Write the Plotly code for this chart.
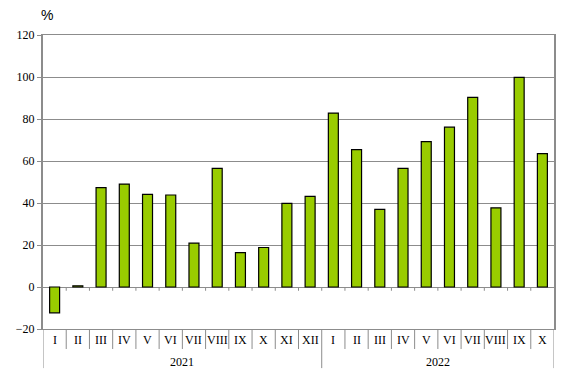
import plotly.graph_objects as go

months_2021 = ["I", "II", "III", "IV", "V", "VI", "VII", "VIII", "IX", "X", "XI", "XII"]
months_2022 = ["I", "II", "III", "IV", "V", "VI", "VII", "VIII", "IX", "X"]
values_2021 = [-12.3, 0.6, 47.3, 49.0, 44.1, 43.8, 20.9, 56.5, 16.4, 18.8, 39.8, 43.2]
values_2022 = [82.8, 65.4, 37.0, 56.5, 69.2, 76.1, 90.3, 37.7, 99.8, 63.5]
years = ["2021", "2022"]
y_ticks = [-20, 0, 20, 40, 60, 80, 100, 120]

months = months_2021 + months_2022
values = values_2021 + values_2022
xs = list(range(len(months)))

GRID = "#8c8c8c"
SERIF = "Liberation Serif, Times New Roman, serif"

fig = go.Figure()
fig.add_trace(go.Bar(
    x=xs, y=values, width=0.43,
    marker=dict(color="#99CC00", line=dict(color="black", width=1.2)),
    hoverinfo="y",
))

shapes = []
annotations = []
n = len(months)
split = len(months_2021)
for k in range(n + 1):
    b = k - 0.5
    long = k in (0, split, n)
    shapes.append(dict(type="line", xref="x", yref="paper", x0=b, x1=b,
                       y0=0, y1=-0.133 if long else -0.068,
                       line=dict(color=GRID, width=1)))
    if 0 < k < n:
        shapes.append(dict(type="line", xref="x", yref="y", x0=b, x1=b,
                           y0=0, y1=-1.8, line=dict(color=GRID, width=1)))
for i, m in enumerate(months):
    annotations.append(dict(x=i, y=-0.038, xref="x", yref="paper", text=m,
                            showarrow=False, font=dict(family=SERIF, size=12, color="black"),
                            yanchor="middle"))
annotations.append(dict(x=(split - 1) / 2, y=-0.112, xref="x", yref="paper", text=years[0],
                        showarrow=False, font=dict(family=SERIF, size=12, color="black"), yanchor="middle"))
annotations.append(dict(x=(split + n - 1) / 2, y=-0.112, xref="x", yref="paper", text=years[1],
                        showarrow=False, font=dict(family=SERIF, size=12, color="black"), yanchor="middle"))
annotations.append(dict(x=0, y=1.0, xref="paper", yref="paper", text="%",
                        showarrow=False, xanchor="center", yanchor="middle", xshift=4, yshift=20,
                        borderpad=0,
                        font=dict(family="Liberation Sans, Arial, sans-serif", size=14, color="black")))

fig.update_layout(
    width=556, height=374,
    margin=dict(l=28, r=8, t=27, b=53),
    paper_bgcolor="white", plot_bgcolor="white",
    showlegend=False,
    shapes=shapes,
    annotations=annotations,
    xaxis=dict(range=[-0.5, n - 0.5], showticklabels=False, showgrid=False, zeroline=False,
               showline=True, linecolor=GRID, linewidth=1, mirror=True, ticks=""),
    yaxis=dict(range=[-20, 120], tickvals=y_ticks, showgrid=True, gridcolor=GRID, gridwidth=1,
               zeroline=True, zerolinecolor=GRID, zerolinewidth=1,
               showline=True, linecolor=GRID, linewidth=2, mirror=True,
               ticks="outside", ticklen=4, tickcolor=GRID,
               tickfont=dict(family=SERIF, size=12, color="black")),
)

fig.write_html("out.html")
